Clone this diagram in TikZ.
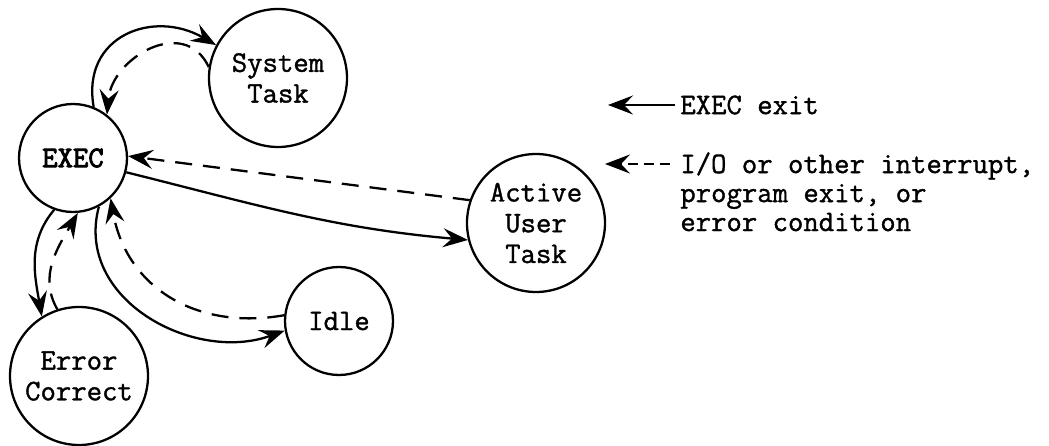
\documentclass[tikz,border=0pt]{standalone}
\usepackage{fontspec}
\newfontfamily\typefont{Latin Modern Mono}[FakeBold=1.2]
\newfontfamily\typebold{Latin Modern Mono}[FakeBold=3]
\usetikzlibrary{positioning, arrows.meta}

\begin{document}
\begin{tikzpicture}[
    x=0.02cm, y=-0.02cm,
    state/.style={
      circle, draw=black, line width=1.3pt, inner sep=0pt,
      font=\fontsize{17}{17.5}\selectfont\typefont, align=center,
    },
    small/.style ={state, minimum size=2.16cm},
    large/.style ={state, minimum size=2.76cm},
    exit/.style={-{Stealth[length=5mm, width=3.8mm, inset=1.8mm]}, line width=1.3pt},
    intr/.style={exit, dash pattern=on 0.34cm off 0.22cm},
    legend/.style={font=\fontsize{17}{16.5}\selectfont\typefont,
                   align=left, anchor=west, inner sep=0pt},
]
\useasboundingbox (0,0) rectangle (1049,446);

\node[small] (exec) at (73,158)  {\typebold EXEC};
\node[large] (sys)  at (278,78)  {System\\Task};
\node[large] (user) at (536,223) {Active\\User\\Task};
\node[small] (idle) at (339,321) {Idle};
\node[large] (err)  at (79,376)  {Error\\Correct};

% EXEC exits (solid) and returns to EXEC (dashed)
\draw[exit] (exec.68)  to[out=100, in=150, looseness=1.35] (sys.152);
\draw[intr] (sys.171)  to[out=115, in=85, looseness=1.3]  (exec.52);

\draw[exit] (exec.-15) to[out=-14, in=175] (user.194);
\draw[intr] (user.161) -- (exec.2);

\draw[exit] (exec.250) to[out=230, in=100] (err.122);
\draw[intr] (err.108)  to[out=120, in=240] (exec.275);

\draw[exit] (exec.-62) to[out=-105, in=200, looseness=1.1] (idle.190);
\draw[intr] (idle.174) to[out=190, in=-80, looseness=1.1] (exec.-47);

% key
\coordinate (k1) at (675,105);
\coordinate (k2) at (670,164);
\draw[exit] (k1) -- ++(-67,0);
\draw[intr, dash pattern=on 0.2cm off 0.12cm] (k2) -- ++(-65,0);
\node[legend] (k1txt) at (680,105) {EXEC exit};
\node[legend, anchor=north west] (k2txt) at (680,152)
    {I/O or other interrupt,\\program exit, or\\error condition};
\end{tikzpicture}
\end{document}
